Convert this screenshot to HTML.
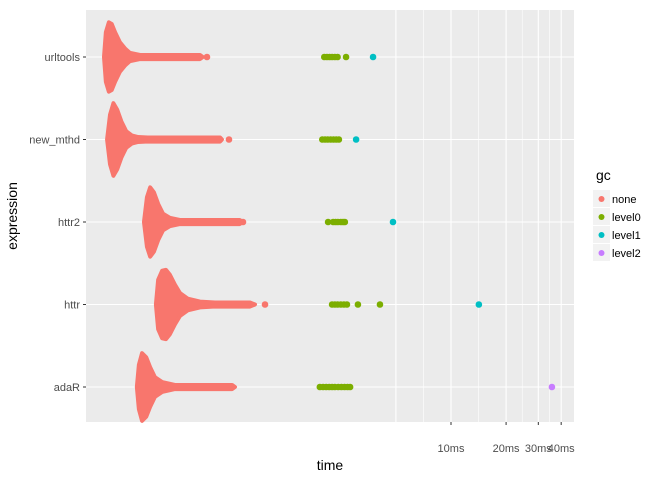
<!DOCTYPE html>
<html><head><meta charset="utf-8"><style>
body{margin:0;background:#fff;}
svg{display:block;font-family:"Liberation Sans",Arial,sans-serif;}
</style></head><body>
<svg id="chart" width="672" height="480" xmlns="http://www.w3.org/2000/svg"></svg>
<script>
// ---- data ----
const expressions = ["urltools","new_mthd","httr2","httr","adaR"];
// body density profiles: times (ms) and relative half-widths (row units)
const profileTimes = [
 [0.127,0.130,0.135,0.140,0.146,0.155,0.166,0.176,0.200,0.425,0.440],
 [0.132,0.137,0.143,0.150,0.158,0.168,0.180,0.195,0.220,0.547,0.560],
 [0.210,0.218,0.227,0.238,0.251,0.267,0.291,0.330,0.700,0.730],
 [0.244,0.251,0.264,0.277,0.291,0.310,0.330,0.365,0.425,0.513,0.797,0.849],
 [0.192,0.197,0.205,0.216,0.227,0.241,0.264,0.310,0.636,0.660]
];
const profileWidths = [
 [0,0.30,0.42,0.40,0.30,0.18,0.10,0.05,0.025,0.025,0],
 [0,0.30,0.44,0.36,0.22,0.10,0.05,0.03,0.025,0.025,0],
 [0,0.30,0.42,0.36,0.22,0.10,0.05,0.025,0.025,0],
 [0,0.30,0.41,0.42,0.36,0.24,0.14,0.07,0.035,0.025,0.025,0],
 [0,0.27,0.41,0.36,0.24,0.12,0.06,0.025,0.025,0]
];
const noneTimes = [[0.464],[0.547,0.612],[0.730],[0.963],[0.636]];
const level0Times = [
 [2.03,2.10,2.17,2.24,2.32,2.40,2.67],
 [1.98,2.05,2.12,2.20,2.28,2.36,2.44],
 [2.13,2.27,2.34,2.41,2.50,2.57,2.63],
 [2.24,2.32,2.40,2.50,2.60,2.70,3.10,4.09],
 [1.92,2.00,2.08,2.16,2.24,2.32,2.42,2.52,2.62,2.72,2.81]
];
const level1Times = [[3.75],[3.03],[4.82],[14.2],[]];
const level2Times = [[],[],[],[],[35.6]];
const xTickValues = [10,20,30,40];
const xTickLabels = ["10ms","20ms","30ms","40ms"];
const legendLabels = ["none","level0","level1","level2"];
const legendColors = ["#F8766D","#7CAE00","#00BFC4","#C77CFF"];

// ---- scales ----
const P = {l:86,r:574,t:10,b:422};
const x = t => 268 + 183*Math.log10(t);
const rowH = 82.5;
const y = i => 57 + i*rowH;
const NS="http://www.w3.org/2000/svg";
const svg=document.getElementById('chart');
function mk(tag,attrs,parent){const e=document.createElementNS(NS,tag);for(const k in attrs)e.setAttribute(k,attrs[k]);(parent||svg).appendChild(e);return e;}

const bg=mk('rect',{x:P.l,y:P.t,width:P.r-P.l,height:P.b-P.t,fill:'#EBEBEB'});


// grid
[7.07,14.14,24.5,34.6].forEach(v=>{const g=mk('line',{x1:x(v),x2:x(v),y1:P.t,y2:P.b,stroke:'#fff','stroke-width':0.6});

});
[5].concat(xTickValues).forEach(v=>{const g=mk('line',{x1:x(v),x2:x(v),y1:P.t,y2:P.b,stroke:'#fff','stroke-width':1.1});

});
expressions.forEach((e,i)=>{const g=mk('line',{x1:P.l,x2:P.r,y1:y(i),y2:y(i),stroke:'#fff','stroke-width':1.1});

});

// series
expressions.forEach((e,i)=>{
  const ts=profileTimes[i], ws=profileWidths[i];
  let top=ts.map((t,k)=>`${x(t)},${y(i)-ws[k]*rowH}`);
  let bot=ts.map((t,k)=>`${x(t)},${y(i)+ws[k]*rowH}`).reverse();
  const p=mk('polygon',{points:top.concat(bot).join(' '),fill:'#F8766D',stroke:'#F8766D','stroke-width':4,'stroke-linejoin':'round'});
  
  
  const groups=[[noneTimes[i],legendColors[0]],[level0Times[i],legendColors[1]],[level1Times[i],legendColors[2]],[level2Times[i],legendColors[3]]];
  groups.forEach(([arr,c])=>arr.forEach(t=>{
    const d=mk('circle',{cx:x(t),cy:y(i),r:3.3,fill:c});
    
    
  }));
  const tk=mk('line',{x1:P.l-3,x2:P.l,y1:y(i),y2:y(i),stroke:'#333','stroke-width':1});
  
  
  const lb=mk('text',{x:P.l-6,y:y(i)+4,'text-anchor':'end','font-size':11,fill:'#4D4D4D'});
  lb.textContent=e;
  
  
});
xTickValues.forEach((v,k)=>{
  const tk=mk('line',{x1:x(v),x2:x(v),y1:P.b,y2:P.b+3,stroke:'#333','stroke-width':1});
  
  
  const lb=mk('text',{x:x(v),y:P.b+30,'text-anchor':'middle','font-size':11,fill:'#4D4D4D'});
  lb.textContent=xTickLabels[k];
  
  
});
const xt=mk('text',{x:330,y:470,'text-anchor':'middle','font-size':14,fill:'#000'});
xt.textContent='time';


const yt=mk('text',{x:0,y:0,'text-anchor':'middle','font-size':14,fill:'#000',transform:'translate(17,216) rotate(-90)'});
yt.textContent='expression';


// legend
const lt=mk('text',{x:596,y:180,'font-size':14,fill:'#000'});
lt.textContent='gc';


legendLabels.forEach((l,k)=>{
  const cy=199+k*18;
  const kb=mk('rect',{x:593,y:cy-9,width:17,height:17,fill:'#F2F2F2'});
  
  
  const c=mk('circle',{cx:601.5,cy:cy,r:3,fill:legendColors[k]});
  
  
  const t=mk('text',{x:612,y:cy+4,'font-size':11,fill:'#000'});
  t.textContent=l;
  
  
});
</script>
</body></html>
